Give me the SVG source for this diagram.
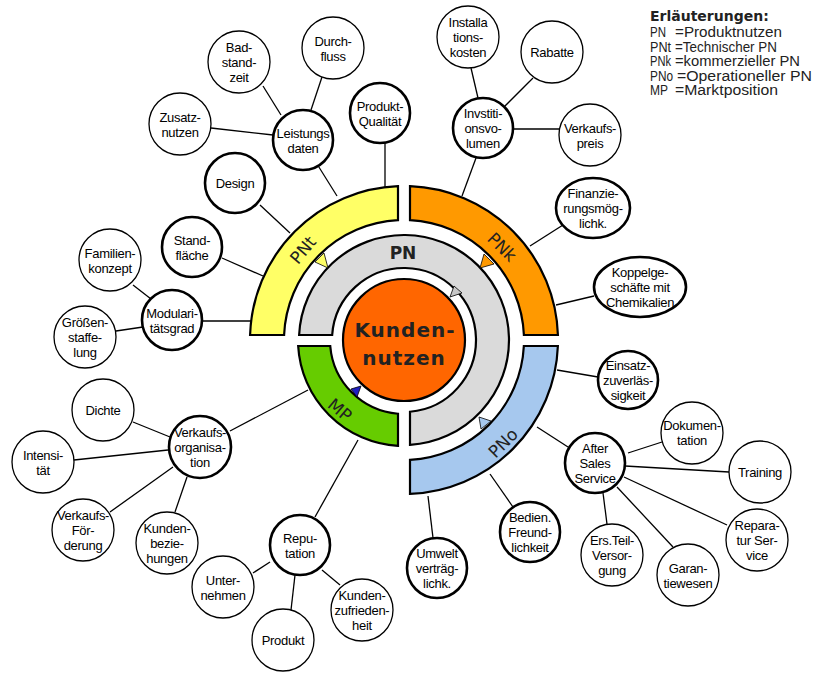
<svg xmlns="http://www.w3.org/2000/svg" width="825" height="673" viewBox="0 0 825 673">
<style>
.bg{fill:#fff}
.con line{stroke:#000;stroke-width:1.3}
.n1{fill:#fff;stroke:#000;stroke-width:2.6}
.n2{fill:#fff;stroke:#000;stroke-width:1.3}
.t{font-family:"Liberation Sans",Arial,sans-serif;font-size:13px;letter-spacing:-0.3px;fill:#000;text-anchor:middle;dominant-baseline:central}
.ring{stroke:#000;stroke-width:2.2;stroke-linejoin:miter}
.rl{font-family:"DejaVu Sans",Verdana,sans-serif;font-size:17px;fill:#222;text-anchor:middle;dominant-baseline:central}
.core{font-family:"DejaVu Sans",Verdana,sans-serif;font-size:20px;font-weight:bold;fill:#222;text-anchor:middle;letter-spacing:1px}
.lg{font-family:"Liberation Sans",Arial,sans-serif;font-size:14px;fill:#222}
.lgb{font-family:"DejaVu Sans",Verdana,sans-serif;font-size:14px;font-weight:bold;fill:#222}
.tri{stroke:#000;stroke-width:0.8}
</style>
<rect class="bg" x="0" y="0" width="825" height="673"/>

<g id="connectors" class="con">
<line x1="263" y1="86" x2="281" y2="115"/>
<line x1="322" y1="77" x2="311" y2="110"/>
<line x1="211" y1="128" x2="273" y2="135"/>
<line x1="317" y1="164" x2="337" y2="196"/>
<line x1="385" y1="143" x2="385" y2="187"/>
<line x1="260" y1="205" x2="290" y2="233"/>
<line x1="222" y1="258" x2="263" y2="276"/>
<line x1="133" y1="285" x2="151" y2="299"/>
<line x1="116" y1="331" x2="143" y2="327"/>
<line x1="202" y1="321" x2="251" y2="321"/>
<line x1="471" y1="68" x2="478" y2="98"/>
<line x1="533" y1="78" x2="505" y2="106"/>
<line x1="513" y1="129" x2="559" y2="129"/>
<line x1="476" y1="158" x2="462" y2="196"/>
<line x1="563" y1="225" x2="530" y2="246"/>
<line x1="594" y1="296" x2="556" y2="305"/>
<line x1="598" y1="377" x2="557" y2="370"/>
<line x1="568" y1="447" x2="537" y2="427"/>
<line x1="513" y1="507" x2="490" y2="474"/>
<line x1="433" y1="538" x2="428" y2="496"/>
<line x1="628" y1="453" x2="662" y2="442"/>
<line x1="625" y1="466" x2="729" y2="472"/>
<line x1="624" y1="477" x2="727" y2="525"/>
<line x1="617" y1="487" x2="673" y2="547"/>
<line x1="603" y1="493" x2="607" y2="524"/>
<line x1="230" y1="431" x2="308" y2="390"/>
<line x1="133" y1="422" x2="170" y2="437"/>
<line x1="74" y1="460" x2="168" y2="450"/>
<line x1="110" y1="512" x2="173" y2="467"/>
<line x1="175" y1="512" x2="187" y2="477"/>
<line x1="358" y1="440" x2="315" y2="517"/>
<line x1="270" y1="562" x2="253" y2="573"/>
<line x1="295" y1="575" x2="291" y2="610"/>
<line x1="322" y1="570" x2="340" y2="585"/>
</g>

<g id="ring-PNt">
<path class="ring" fill="#ffff66" d="M 250.08,335 A 154 154 0 0 1 398,186.12 L 398,220.15 A 120 120 0 0 0 284.1,335 Z"/>
<text class="rl" x="303" y="250" transform="rotate(-50 303 250)">PNt</text>
</g>
<g id="ring-PNk">
<path class="ring" fill="#ff9900" d="M 410,186.12 A 154 154 0 0 1 557.92,335 L 523.9,335 A 120 120 0 0 0 410,220.15 Z"/>
<text class="rl" x="502" y="247" transform="rotate(45 502 247)">PNk</text>
</g>
<g id="ring-PNo">
<path class="ring" fill="#a6c8ee" d="M 557.88,346 A 154 154 0 0 1 410,493.88 L 410,459.85 A 120 120 0 0 0 523.85,346 Z"/>
<text class="rl" x="503" y="443" transform="rotate(-45 503 443)">PNo</text>
</g>
<g id="ring-PN">
<path class="ring" fill="#dadada" d="M 299.12,335 A 105 105 0 1 1 410,444.83 L 410,411.75 A 72 72 0 1 0 332.17,335 Z"/>
<text class="rl" x="403" y="253" font-weight="bold">PN</text>
</g>
<g id="ring-MP">
<path class="ring" fill="#66cc00" d="M 298.17,346 A 106 106 0 0 0 398,445.83 L 398,413.76 A 74 74 0 0 1 330.24,346 Z"/>
<text class="rl" x="340" y="410" transform="rotate(40 340 410)">MP</text>
</g>
<g id="core">
<circle cx="404" cy="340" r="61" fill="#ff6600" stroke="#000" stroke-width="2.2"/>
<text class="core" x="405" y="337">Kunden-</text>
<text class="core" x="404" y="365">nutzen</text>
</g>

<g id="arrows">
<polygon class="tri" fill="#ffff66" points="328,268 315,262 324,253"/>
<polygon class="tri" fill="#ff9900" points="480,268 484,254 494,264"/>
<polygon class="tri" fill="#c8c8c8" points="450,297 454,286 462,293"/>
<polygon class="tri" fill="#2020c0" points="361,386 351,389 357,397"/>
<polygon class="tri" fill="#a6c8ee" points="479,417 481,429 491,421"/>
</g>

<g id="n-badstandzeit"><circle class="n2" cx="239" cy="62" r="31"/><text class="t" x="239" y="47">Bad-</text><text class="t" x="239" y="62">stand-</text><text class="t" x="239" y="77">zeit</text></g>
<g id="n-durchfluss"><circle class="n2" cx="333" cy="48" r="31"/><text class="t" x="333" y="41">Durch-</text><text class="t" x="333" y="56">fluss</text></g>
<g id="n-zusatznutzen"><circle class="n2" cx="180" cy="124" r="31"/><text class="t" x="180" y="117">Zusatz-</text><text class="t" x="180" y="132">nutzen</text></g>
<g id="n-leistungsdaten"><circle class="n1" cx="303" cy="140" r="30"/><text class="t" x="303" y="133">Leistungs</text><text class="t" x="303" y="148">daten</text></g>
<g id="n-produktqualitaet"><circle class="n1" cx="380" cy="113" r="30"/><text class="t" x="380" y="106">Produkt-</text><text class="t" x="380" y="121">Qualität</text></g>
<g id="n-design"><circle class="n1" cx="235" cy="183" r="30"/><text class="t" x="235" y="183">Design</text></g>
<g id="n-standflaeche"><circle class="n1" cx="192" cy="247" r="30"/><text class="t" x="192" y="240">Stand-</text><text class="t" x="192" y="255">fläche</text></g>
<g id="n-familienkonzept"><circle class="n2" cx="110" cy="260" r="31"/><text class="t" x="110" y="253">Familien-</text><text class="t" x="110" y="268">konzept</text></g>
<g id="n-modularitaetsgrad"><circle class="n1" cx="172" cy="320" r="30"/><text class="t" x="172" y="313">Modulari-</text><text class="t" x="172" y="328">tätsgrad</text></g>
<g id="n-groessenstaffelung"><circle class="n2" cx="85" cy="337" r="31"/><text class="t" x="85" y="322">Größen-</text><text class="t" x="85" y="337">staffe-</text><text class="t" x="85" y="352">lung</text></g>
<g id="n-installationskosten"><circle class="n2" cx="468" cy="37" r="31"/><text class="t" x="468" y="22">Installa</text><text class="t" x="468" y="37">tions-</text><text class="t" x="468" y="52">kosten</text></g>
<g id="n-rabatte"><circle class="n2" cx="552" cy="52" r="31"/><text class="t" x="552" y="52">Rabatte</text></g>
<g id="n-investitionsvolumen"><circle class="n1" cx="483" cy="128" r="30"/><text class="t" x="483" y="113">Invstiti-</text><text class="t" x="483" y="128">onsvo-</text><text class="t" x="483" y="143">lumen</text></g>
<g id="n-verkaufspreis"><circle class="n2" cx="590" cy="135" r="31"/><text class="t" x="590" y="128">Verkaufs-</text><text class="t" x="590" y="143">preis</text></g>
<g id="n-finanzierung"><ellipse class="n1" cx="593" cy="208" rx="37" ry="30"/><text class="t" x="593" y="193">Finanzie-</text><text class="t" x="593" y="208">rungsmög-</text><text class="t" x="593" y="223">lichk.</text></g>
<g id="n-koppelgeschaefte"><ellipse class="n1" cx="640" cy="287" rx="46" ry="30"/><text class="t" x="640" y="272">Koppelge-</text><text class="t" x="640" y="287">schäfte mit</text><text class="t" x="640" y="302">Chemikalien</text></g>
<g id="n-einsatz"><ellipse class="n1" cx="628" cy="380" rx="30" ry="29"/><text class="t" x="628" y="365">Einsatz-</text><text class="t" x="628" y="380">zuverläs-</text><text class="t" x="628" y="395">sigkeit</text></g>
<g id="n-aftersales"><circle class="n1" cx="595" cy="463" r="30"/><text class="t" x="595" y="448">After</text><text class="t" x="595" y="463">Sales</text><text class="t" x="595" y="478">Service</text></g>
<g id="n-dokumentation"><circle class="n2" cx="692" cy="433" r="31"/><text class="t" x="692" y="425">Dokumen-</text><text class="t" x="692" y="440">tation</text></g>
<g id="n-training"><circle class="n2" cx="760" cy="472" r="31"/><text class="t" x="760" y="472">Training</text></g>
<g id="n-reparatur"><circle class="n2" cx="757" cy="540" r="31"/><text class="t" x="757" y="525">Repara-</text><text class="t" x="757" y="540">tur Ser-</text><text class="t" x="757" y="555">vice</text></g>
<g id="n-garantiewesen"><circle class="n2" cx="688" cy="575" r="31"/><text class="t" x="688" y="568">Garan-</text><text class="t" x="688" y="583">tiewesen</text></g>
<g id="n-ersatzteil"><circle class="n2" cx="612" cy="555" r="31"/><text class="t" x="612" y="540">Ers.Teil-</text><text class="t" x="612" y="555">Versor-</text><text class="t" x="612" y="570">gung</text></g>
<g id="n-bedienfreundlichkeit"><circle class="n1" cx="530" cy="532" r="30"/><text class="t" x="530" y="517">Bedien.</text><text class="t" x="530" y="532">Freund-</text><text class="t" x="530" y="547">lichkeit</text></g>
<g id="n-umwelt"><circle class="n1" cx="437" cy="568" r="30"/><text class="t" x="437" y="553">Umwelt</text><text class="t" x="437" y="568">verträg-</text><text class="t" x="437" y="583">lichk.</text></g>
<g id="n-reputation"><circle class="n1" cx="300" cy="545" r="30"/><text class="t" x="300" y="538">Repu-</text><text class="t" x="300" y="553">tation</text></g>
<g id="n-unternehmen"><circle class="n2" cx="223" cy="587" r="31"/><text class="t" x="223" y="580">Unter-</text><text class="t" x="223" y="595">nehmen</text></g>
<g id="n-produkt"><circle class="n2" cx="283" cy="640" r="31"/><text class="t" x="283" y="640">Produkt</text></g>
<g id="n-kundenzufriedenheit"><circle class="n2" cx="362" cy="610" r="31"/><text class="t" x="362" y="595">Kunden-</text><text class="t" x="362" y="610">zufrieden-</text><text class="t" x="362" y="625">heit</text></g>
<g id="n-verkaufsorganisation"><circle class="n1" cx="200" cy="447" r="31"/><text class="t" x="200" y="432">Verkaufs-</text><text class="t" x="200" y="447">organisa-</text><text class="t" x="200" y="462">tion</text></g>
<g id="n-dichte"><circle class="n2" cx="103" cy="410" r="31"/><text class="t" x="103" y="410">Dichte</text></g>
<g id="n-intensitaet"><circle class="n2" cx="43" cy="462" r="31"/><text class="t" x="43" y="455">Intensi-</text><text class="t" x="43" y="470">tät</text></g>
<g id="n-verkaufsfoerderung"><circle class="n2" cx="83" cy="530" r="31"/><text class="t" x="83" y="515">Verkaufs-</text><text class="t" x="83" y="530">För-</text><text class="t" x="83" y="545">derung</text></g>
<g id="n-kundenbeziehungen"><circle class="n2" cx="167" cy="543" r="31"/><text class="t" x="167" y="528">Kunden-</text><text class="t" x="167" y="543">bezie-</text><text class="t" x="167" y="558">hungen</text></g>

<g id="legend">
<text class="lgb" x="650" y="21">Erläuterungen:</text>
<text class="lg" x="650" y="37" textLength="16" lengthAdjust="spacingAndGlyphs">PN</text><text class="lg" x="675" y="37" textLength="107" lengthAdjust="spacingAndGlyphs">=Produktnutzen</text>
<text class="lg" x="650" y="51.5" textLength="21" lengthAdjust="spacingAndGlyphs">PNt</text><text class="lg" x="675" y="51.5" textLength="102" lengthAdjust="spacingAndGlyphs">=Technischer PN</text>
<text class="lg" x="650" y="66" textLength="21" lengthAdjust="spacingAndGlyphs">PNk</text><text class="lg" x="675" y="66" textLength="125" lengthAdjust="spacingAndGlyphs">=kommerzieller PN</text>
<text class="lg" x="650" y="80.5" textLength="23" lengthAdjust="spacingAndGlyphs">PNo</text><text class="lg" x="677" y="80.5" textLength="135" lengthAdjust="spacingAndGlyphs">=Operationeller PN</text>
<text class="lg" x="650" y="95" textLength="18" lengthAdjust="spacingAndGlyphs">MP</text><text class="lg" x="675" y="95" textLength="103" lengthAdjust="spacingAndGlyphs">=Marktposition</text>
</g>
</svg>
